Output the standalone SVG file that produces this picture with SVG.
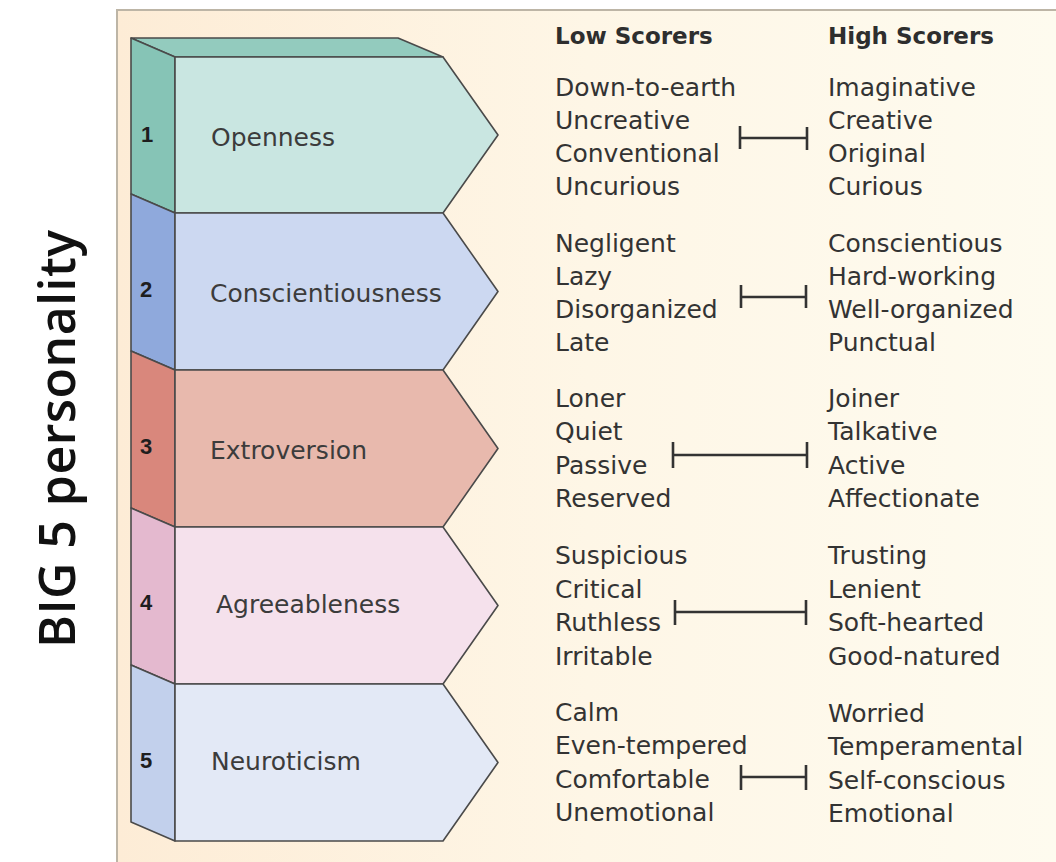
<svg xmlns="http://www.w3.org/2000/svg" width="1056" height="862" viewBox="0 0 1056 862">
<defs>
<linearGradient id="bg" x1="0" y1="0" x2="1" y2="0">
<stop offset="0" stop-color="#fdecd6"/>
<stop offset="0.5" stop-color="#fef6e6"/>
<stop offset="1" stop-color="#fefbef"/>
</linearGradient>
<style>
.edge{stroke:#4a4a4a;stroke-width:1.6;stroke-linejoin:round}
.num{font-family:"Liberation Sans",Arial,sans-serif;font-weight:bold;font-size:22px;fill:#1e1e1e}
.lbl{font-family:"DejaVu Sans","Open Sans",sans-serif;font-size:25px;fill:#3c3c3c}
.word{font-family:"DejaVu Sans","Open Sans",sans-serif;font-size:25px;fill:#333}
.head{font-family:"DejaVu Sans","Open Sans",sans-serif;font-size:23px;font-weight:bold;fill:#2e2e2e}
.title{font-family:"Open Sans",Lato,sans-serif;font-size:50px;font-weight:600;fill:#111}
.bar{fill:none;stroke:#333;stroke-width:2.6}
</style>
</defs>
<rect x="0" y="0" width="1056" height="862" fill="#ffffff"/>
<rect x="117" y="10" width="939" height="852" fill="url(#bg)"/>
<path d="M117 862 V10 H1056" fill="none" stroke="#bdb5a6" stroke-width="2"/>

<g id="title">
<text class="title" transform="translate(75,648) rotate(-90)" textLength="418" lengthAdjust="spacing">BIG 5 personality</text>
</g>

<g id="node-1">
<polygon class="edge" fill="#93cbbe" points="131,38 398,38 443,57 175,57"/>
<polygon class="edge" fill="#86c4b6" points="131,38 175,57 175,213 131,194"/>
<polygon class="edge" fill="#c9e6e1" points="175,57 443,57 498,135 443,213 175,213"/>
<text class="num" x="141" y="142">1</text>
<text class="lbl" x="211" y="146">Openness</text>
</g>
<g id="node-2">
<polygon class="edge" fill="#8fa9dc" points="131,194 175,213 175,370 131,351"/>
<polygon class="edge" fill="#ccd8f1" points="175,213 443,213 498,291.5 443,370 175,370"/>
<text class="num" x="140" y="297">2</text>
<text class="lbl" x="210" y="302">Conscientiousness</text>
</g>
<g id="node-3">
<polygon class="edge" fill="#d9877c" points="131,351 175,370 175,527 131,508"/>
<polygon class="edge" fill="#e8b9ad" points="175,370 443,370 498,448.5 443,527 175,527"/>
<text class="num" x="140" y="454">3</text>
<text class="lbl" x="210" y="459">Extroversion</text>
</g>
<g id="node-4">
<polygon class="edge" fill="#e4b9cf" points="131,508 175,527 175,684 131,665"/>
<polygon class="edge" fill="#f5e1ec" points="175,527 443,527 498,605.5 443,684 175,684"/>
<text class="num" x="140" y="610">4</text>
<text class="lbl" x="216" y="613">Agreeableness</text>
</g>
<g id="node-5">
<polygon class="edge" fill="#c2d0ec" points="131,665 175,684 175,841 131,822"/>
<polygon class="edge" fill="#e3e9f6" points="175,684 443,684 498,762.5 443,841 175,841"/>
<text class="num" x="140" y="768">5</text>
<text class="lbl" x="211" y="770">Neuroticism</text>
</g>

<g id="headers">
<text class="head" x="555" y="44">Low Scorers</text>
<text class="head" x="828" y="44">High Scorers</text>
</g>

<g id="low-1" class="word">
<text x="555" y="96">Down-to-earth</text>
<text x="555" y="129">Uncreative</text>
<text x="555" y="162">Conventional</text>
<text x="555" y="195">Uncurious</text>
</g>
<g id="high-1" class="word">
<text x="828" y="96">Imaginative</text>
<text x="828" y="129">Creative</text>
<text x="828" y="162">Original</text>
<text x="828" y="195">Curious</text>
</g>
<g id="low-2" class="word">
<text x="555" y="252">Negligent</text>
<text x="555" y="285">Lazy</text>
<text x="555" y="318">Disorganized</text>
<text x="555" y="351">Late</text>
</g>
<g id="high-2" class="word">
<text x="828" y="252">Conscientious</text>
<text x="828" y="285">Hard-working</text>
<text x="828" y="318">Well-organized</text>
<text x="828" y="351">Punctual</text>
</g>
<g id="low-3" class="word">
<text x="555" y="407">Loner</text>
<text x="555" y="440">Quiet</text>
<text x="555" y="474">Passive</text>
<text x="555" y="507">Reserved</text>
</g>
<g id="high-3" class="word">
<text x="828" y="407">Joiner</text>
<text x="828" y="440">Talkative</text>
<text x="828" y="474">Active</text>
<text x="828" y="507">Affectionate</text>
</g>
<g id="low-4" class="word">
<text x="555" y="564">Suspicious</text>
<text x="555" y="598">Critical</text>
<text x="555" y="631">Ruthless</text>
<text x="555" y="665">Irritable</text>
</g>
<g id="high-4" class="word">
<text x="828" y="564">Trusting</text>
<text x="828" y="598">Lenient</text>
<text x="828" y="631">Soft-hearted</text>
<text x="828" y="665">Good-natured</text>
</g>
<g id="low-5" class="word">
<text x="555" y="721">Calm</text>
<text x="555" y="754">Even-tempered</text>
<text x="555" y="788">Comfortable</text>
<text x="555" y="821">Unemotional</text>
</g>
<g id="high-5" class="word">
<text x="828" y="722">Worried</text>
<text x="828" y="755">Temperamental</text>
<text x="828" y="789">Self-conscious</text>
<text x="828" y="822">Emotional</text>
</g>

<g id="connectors">
<path class="bar" d="M740 126 V149 M740 138 H807 M807 127 V150"/>
<path class="bar" d="M741 285 V308 M741 297 H806 M806 285 V308"/>
<path class="bar" d="M673 442 V468 M673 455 H807 M807 442 V468"/>
<path class="bar" d="M675 600 V625 M675 612 H806 M806 600 V625"/>
<path class="bar" d="M741 765 V790 M741 777 H806 M806 765 V790"/>
</g>
</svg>
